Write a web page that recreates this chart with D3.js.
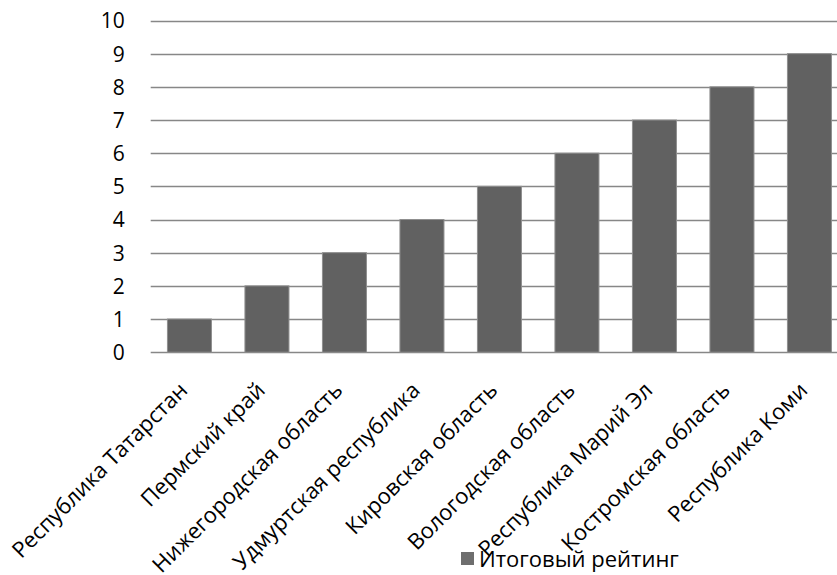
<!DOCTYPE html>
<html><head><meta charset="utf-8">
<script src="https://cdn.jsdelivr.net/npm/d3@7"></script>
<style>body{margin:0;background:#fff;} svg{display:block;}</style>
</head><body>
<svg id="c" width="837" height="575"></svg>
<script>
const categories = ["Республика Татарстан","Пермский край","Нижегородская область","Удмуртская республика","Кировская область","Вологодская область","Республика Марий Эл","Костромская область","Республика Коми"];
const values = [1,2,3,4,5,6,7,8,9];
const yTicks = [0,1,2,3,4,5,6,7,8,9,10];
const seriesName = "Итоговый рейтинг";

(function(){
const svg = d3.select("#c");
const FONT = "'Open Sans', sans-serif";
const plotLeft = 150.7, plotTop = 20.5, plotBottom = 352.2;
const x = d3.scaleBand().domain(categories).range([plotLeft, plotLeft + 77.5*categories.length]).paddingInner(0.432).paddingOuter(0.216);
const y = d3.scaleLinear().domain([0,10]).range([plotBottom, plotTop]);

// gridlines
svg.append("g").selectAll("line").data(yTicks).join("line")
  .attr("x1", plotLeft).attr("x2", 837)
  .attr("y1", d => Math.round(y(d))+0.5).attr("y2", d => Math.round(y(d))+0.5)
  .attr("stroke", "#878787").attr("stroke-width", 1.5);

// y axis labels
const ya = svg.append("g").attr("transform", `translate(${plotLeft-26},0)`)
  .call(d3.axisLeft(y).tickValues(yTicks).tickSize(0).tickPadding(0));
ya.select(".domain").remove();
ya.selectAll("text").attr("font-family", FONT).attr("font-size", 21).attr("fill", "#000").attr("dy", "0.35em");

// bars
svg.append("g").selectAll("rect").data(values).join("rect")
  .attr("x", (d,i) => x(categories[i]))
  .attr("width", x.bandwidth())
  .attr("y", d => y(d))
  .attr("height", d => y(0) - y(d))
  .attr("fill", "#616161").attr("stroke", "#8f8f8f").attr("stroke-width", 1);

// x axis labels
const xa = svg.append("g").attr("transform", `translate(0,${plotBottom})`)
  .call(d3.axisBottom(x).tickSize(0).tickPadding(0));
xa.select(".domain").remove();
xa.selectAll("text")
  .attr("font-family", FONT).attr("font-size", 22).attr("fill", "#000")
  .attr("text-anchor", "end")
  .attr("transform", "translate(-6,34) rotate(-45)")
  .attr("x", 0).attr("y", 0).attr("dy", "0.35em");

// legend
const lg = svg.append("g");
lg.append("rect").attr("x", 461).attr("y", 552).attr("width", 13).attr("height", 13).attr("fill", "#6e6e6e");
lg.append("text").attr("x", 479).attr("y", 567).attr("font-family", FONT).attr("font-size", 22).attr("fill", "#000").text(seriesName);
})();
</script>
</body></html>
